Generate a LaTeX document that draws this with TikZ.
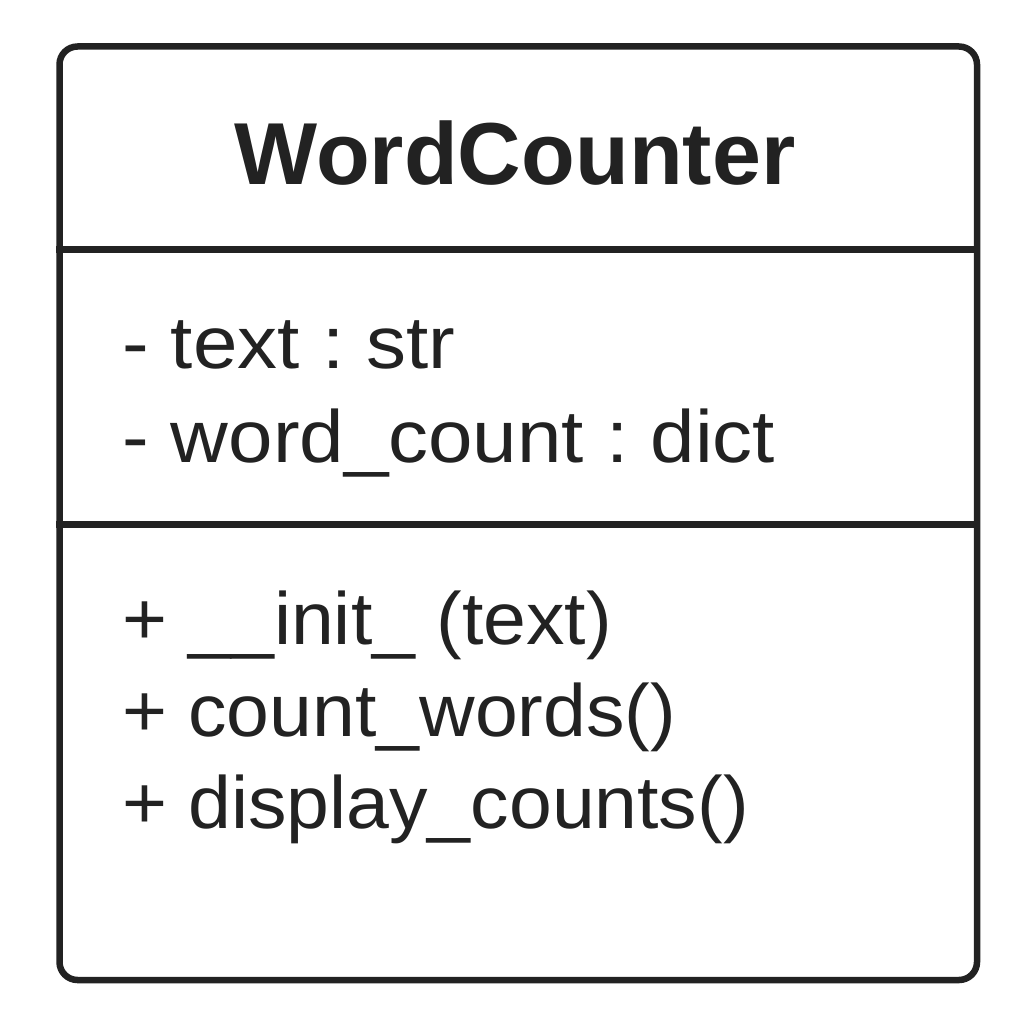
\documentclass[tikz,border=0pt]{standalone}
\usepackage{fontspec}
\setmainfont{Liberation Sans}
\newfontfamily\attrfont[FakeStretch=1.08]{Liberation Sans}
\newfontfamily\operfont[FakeStretch=1.04]{Liberation Sans}
\definecolor{ink}{HTML}{222222}
\frenchspacing
\begin{document}
\begin{tikzpicture}[x=1pt,y=-1pt,
  classbox/.style={draw=ink, line width=6.5pt, rounded corners=18pt, inner sep=0pt,
    minimum width=917.5pt, minimum height=933.5pt},
  divider/.style={draw=ink, line width=6.5pt},
  titletext/.style={inner sep=0pt, anchor=base, text=ink, font=\fontsize{88}{100}\selectfont\bfseries},
  membtext/.style={inner sep=0pt, anchor=base west, text=ink},
  attrtext/.style={membtext, font=\fontsize{74}{86}\selectfont\attrfont},
  opertext/.style={membtext, font=\fontsize{74}{86}\selectfont\operfont}]
  \useasboundingbox (0,0) rectangle (1024,1024);
  % class frame
  \node[classbox] (box) at (518.25,513.25) {};
  % compartment separators
  \coordinate (s1) at (0,249.5);
  \coordinate (s2) at (0,524.5);
  \draw[divider] (box.west |- s1) -- (box.east |- s1);
  \draw[divider] (box.west |- s2) -- (box.east |- s2);
  % class name
  \node[titletext] (title) at (515,185) {WordCounter};
  % attributes
  \node[attrtext] (a1) at (122,368) {- text : str};
  \node[attrtext] (a2) at (122,462) {- word\_count : dict};
  % operations
  \node[opertext] (m1) at (122,644) {+ \_\_init\_ (text)};
  \node[opertext] (m2) at (122,736) {+ count\_words()};
  \node[opertext] (m3) at (122,828) {+ display\_counts()};
\end{tikzpicture}
\end{document}
